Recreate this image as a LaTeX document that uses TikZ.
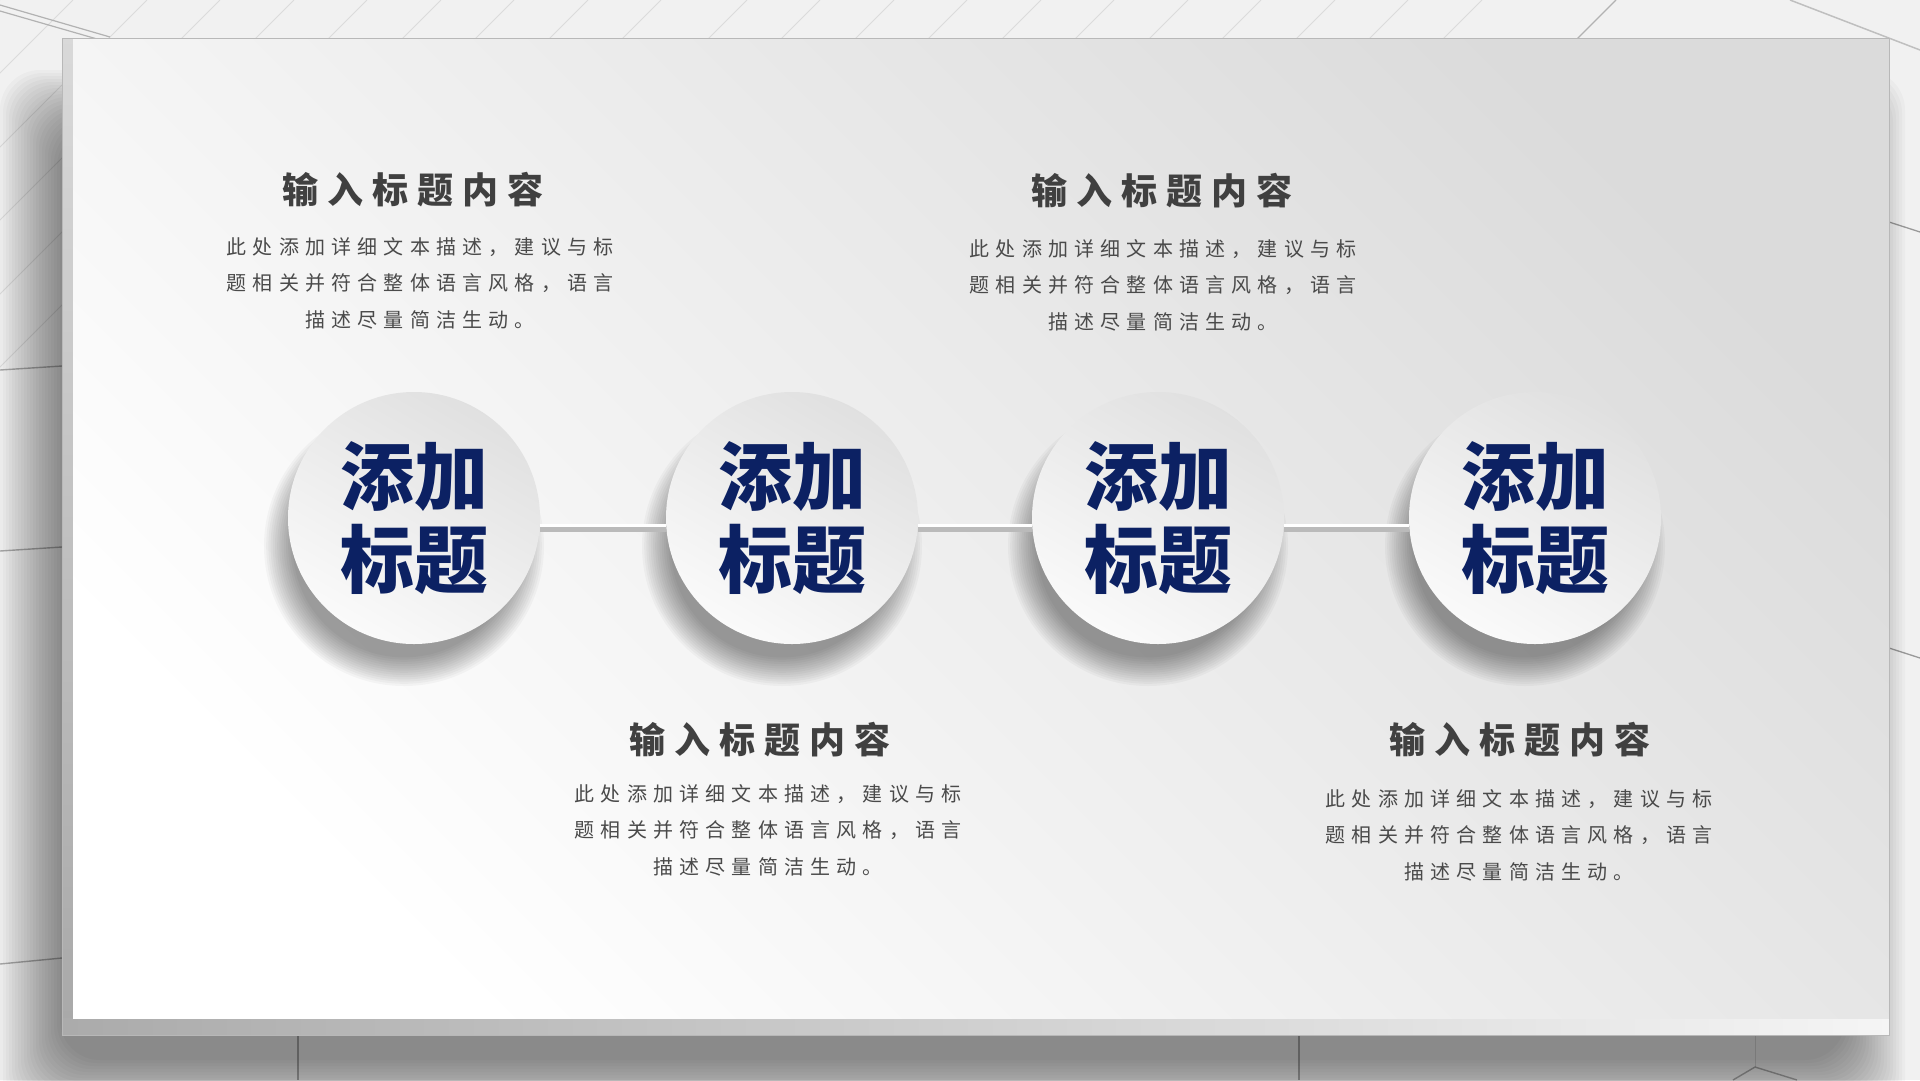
\documentclass[tikz,border=0pt]{standalone}
\usepackage{fontspec}
\newfontfamily\cjk{Noto Sans CJK SC}
\pgfdeclarelayer{bg}
\pgfdeclarelayer{conn}
\pgfsetlayers{bg,conn,main}
\definecolor{cnavy}{HTML}{0C2163}
\definecolor{cttl}{HTML}{404040}
\definecolor{cdesc}{HTML}{4A4A4A}
\definecolor{cbg}{HTML}{F1F1F1}
\makeatletter
\newcommand\lsText[2]{\def\ls@sep{\hskip#1\relax}\ls@first#2\relax}
\def\ls@first#1{#1\ls@next}
\def\ls@next#1{\ifx#1\relax\else\ls@sep#1\expandafter\ls@next\fi}
\makeatother
\newcommand\descbody{\lsText{6.2pt}{此处添加详细文本描述，建议与标}\\\lsText{6.2pt}{题相关并符合整体语言风格，语言}\\\lsText{6.2pt}{描述尽量简洁生动。}}
\newcommand\ttlbody{\lsText{9.2pt}{输入标题内容}}
\colorlet{discdark}{black!12}
\colorlet{disclight}{black!2}
\tikzset{
  disc/.style={circle, minimum size=252pt, inner sep=0pt, top color=discdark, bottom color=disclight, shading angle=-30, text=cnavy, font=\cjk\bfseries\fontsize{74}{83}\selectfont, align=center},
  ttl/.style={text=cttl, font=\cjk\bfseries\fontsize{36}{40}\selectfont, inner sep=0pt},
  desc/.style={text=cdesc, font=\cjk\fontsize{20}{36.5}\selectfont, align=center, inner sep=0pt},
  tile/.style={draw=black!14, line width=0.8pt},
  darkline/.style={draw=black, opacity=0.3, line width=1.4pt},
  conngray/.style={draw=black!27, line width=5pt},
  connwhite/.style={draw=white, line width=3pt},
}
\begin{document}
\begin{tikzpicture}[x=1pt,y=-1pt]
\useasboundingbox (0,0) rectangle (1920,1080);
\begin{pgfonlayer}{bg}
\clip (0,0) rectangle (1920,1080);
\fill[cbg] (0,0) rectangle (1920,1080);
% tile lines
\begin{scope}
\clip (0,0) rectangle (1640,367);
\foreach \c in {0,73,147,220,294,367,441,514,588,661,747,820,894,967,1041,1114,1188,1261,1335,1408,1482}
  \draw[tile] (\c,0) -- (\c-420,420);
\end{scope}
\draw[draw=black!30, line width=1.2pt] (1616,0) -- (1571,45);
\draw[draw=black!30, line width=1.2pt] (0,5) -- (110,37);
\draw[draw=black!30, line width=1.2pt] (0,11) -- (104,41);
\draw[draw=black!25, line width=1.5pt] (1790,0) -- (1920,50);
\draw[draw=black!40, line width=1.3pt] (1889,222) -- (1920,232);
\draw[draw=black!40, line width=1.3pt] (1889,648) -- (1920,658);
% card shadow
\foreach \i in {0,...,20}
  \fill[black, opacity=0.025, rounded corners=40pt] (0+3*\i,70+3*\i) rectangle (1905-3*\i,1120-3*\i);
\draw[darkline] (0,370) -- (62,366);
\draw[darkline] (0,551) -- (62,547);
\draw[darkline] (0,964) -- (62,958);
\draw[darkline] (298,1035) -- (298,1080);
\draw[darkline] (1299,1035) -- (1299,1080);
\draw[darkline] (1733,1080) -- (1755,1067) -- (1797,1080);
\draw[draw=black, opacity=0.12, line width=1pt] (1755,1035) -- (1755,1067);
% card
\shade[top color=black!15, bottom color=black!34] (62,38) rectangle (73,1035);
\shade[left color=black!33, right color=black!4] (62,1018) rectangle (1889,1035);
\shade[top color=black!14, bottom color=white, shading angle=-45] (73,38) rectangle (1889,1018);
\draw[draw=black!28, line width=1pt] (62,38) rectangle (1889,1035);
% circle shadows
\foreach \cx in {414,792,1158,1535}
  \foreach \i in {0,...,13}
    \fill[black, opacity=0.03] (\cx-10,546) circle (140-2.2*\i);
\end{pgfonlayer}
% circles
\node[disc] (c1) at (414,518) {添加\\标题};
\node[disc] (c2) at (792,518) {添加\\标题};
\node[disc] (c3) at (1158,518) {添加\\标题};
\node[disc] (c4) at (1535,518) {添加\\标题};
\begin{pgfonlayer}{conn}
\foreach \a/\b in {c1/c2,c2/c3,c3/c4}{
  \draw[conngray] ([yshift=-11.5pt]\a.east) -- ([yshift=-11.5pt]\b.west);
  \draw[connwhite] ([yshift=-7pt]\a.east) -- ([yshift=-7pt]\b.west);
}
\end{pgfonlayer}
% texts
\node[ttl] (t1) at (413,190) {\ttlbody};
\node[desc] (d1) at (420,283) {\descbody};
\node[ttl] (t2) at (1162,191) {\ttlbody};
\node[desc] (d2) at (1163,285) {\descbody};
\node[ttl] (t3) at (760,740) {\ttlbody};
\node[desc] (d3) at (768,830) {\descbody};
\node[ttl] (t4) at (1520,740) {\ttlbody};
\node[desc] (d4) at (1519,835) {\descbody};
\end{tikzpicture}
\end{document}
